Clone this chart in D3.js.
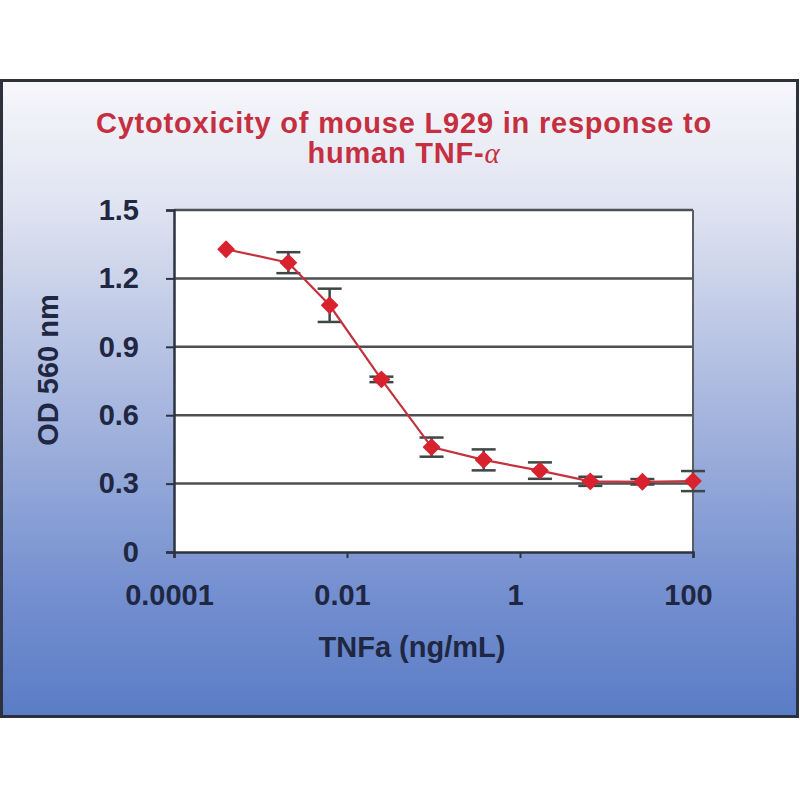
<!DOCTYPE html>
<html><head><meta charset="utf-8">
<script src="https://cdn.jsdelivr.net/npm/d3@7"></script>
<style>body{margin:0;background:#fff;}svg{display:block;}</style>
</head><body>
<svg id="c" width="800" height="800"></svg>
<script>
const concentrations = [0.0004, 0.0021, 0.0063, 0.025, 0.095, 0.38, 1.7, 6.5, 26, 100];
const odValues = [1.328, 1.269, 1.082, 0.757, 0.460, 0.404, 0.357, 0.310, 0.308, 0.311];
const odErrors = [0, 0.046, 0.073, 0.012, 0.042, 0.046, 0.036, 0.020, 0.012, 0.044];
const yTicks = [0, 0.3, 0.6, 0.9, 1.2, 1.5];
const xTicks = [0.0001, 0.01, 1, 100];
const xTickLabels = ["0.0001", "0.01", "1", "100"];
const titleLine1 = "Cytotoxicity of mouse L929 in response to";
const titleLine2 = "human TNF-";
const yTitle = "OD 560 nm";
const xTitle = "TNFa (ng/mL)";

const svg = d3.select("#c");
const font = "'Liberation Sans', Arial, sans-serif";
const defs = svg.append("defs");
const g = defs.append("linearGradient").attr("id","bg").attr("x1",0).attr("y1",0).attr("x2",0).attr("y2",1);
g.append("stop").attr("offset","0%").attr("stop-color","#f7f7fb");
g.append("stop").attr("offset","20%").attr("stop-color","#dfe3f1");
g.append("stop").attr("offset","50%").attr("stop-color","#a9b8df");
g.append("stop").attr("offset","80%").attr("stop-color","#7590d0");
g.append("stop").attr("offset","100%").attr("stop-color","#5a7cc6");

svg.append("rect").attr("x",1.5).attr("y",80.5).attr("width",796).attr("height",636)
  .attr("fill","url(#bg)").attr("stroke","#2c313c").attr("stroke-width",3);

const m = {l:174, r:693, t:210, b:552};
const x = d3.scaleLog().domain([0.0001,100]).range([m.l,m.r]);
const y = d3.scaleLinear().domain([0,1.5]).range([m.b,m.t]);

svg.append("rect").attr("x",m.l).attr("y",m.t).attr("width",m.r-m.l).attr("height",m.b-m.t)
  .attr("fill","#ffffff");

// gridlines
svg.append("g").selectAll("line").data(yTicks.filter(d=>d>0)).join("line")
  .attr("x1",m.l).attr("x2",m.r).attr("y1",d=>y(d)).attr("y2",d=>y(d))
  .attr("stroke","#4d4f52").attr("stroke-width",2.5);
// right border
svg.append("line").attr("x1",m.r).attr("x2",m.r).attr("y1",m.t).attr("y2",m.b)
  .attr("stroke","#5a5d66").attr("stroke-width",2);

// y axis
const yAxis = d3.axisLeft(y).tickValues(yTicks).tickFormat(d=>d===0?"0":d3.format(".1f")(d)).tickSize(8).tickPadding(27);
const ya = svg.append("g").attr("transform",`translate(${m.l},0)`).call(yAxis);
ya.select(".domain").attr("stroke","#2e3340").attr("stroke-width",2.5);
ya.selectAll(".tick line").attr("stroke","#2e3340").attr("stroke-width",2);
ya.selectAll(".tick text").attr("font-family",font).attr("font-weight","bold").attr("font-size",29).attr("fill","#1f2742");

// x axis
const xAxis = d3.axisBottom(x).tickValues(xTicks).tickFormat((d,i)=>xTickLabels[i]).tickSize(6).tickPadding(26);
const xa = svg.append("g").attr("transform",`translate(0,${m.b})`).call(xAxis);
xa.select(".domain").attr("stroke","#2e3340").attr("stroke-width",2.5);
xa.selectAll(".tick line").attr("stroke","#2e3340").attr("stroke-width",2);
xa.selectAll(".tick text").attr("font-family",font).attr("font-weight","bold").attr("font-size",29).attr("fill","#1f2742").attr("dx",-5);

// error bars
const data = concentrations.map((c,i)=>({c, v:odValues[i], e:odErrors[i]}));
const eb = svg.append("g").attr("stroke","#3c4746").attr("stroke-width",2.5);
data.filter(d=>d.e>0).forEach(d=>{
  const cx = x(d.c);
  eb.append("line").attr("x1",cx).attr("x2",cx).attr("y1",y(d.v+d.e)).attr("y2",y(d.v-d.e));
  eb.append("line").attr("x1",cx-12).attr("x2",cx+12).attr("y1",y(d.v+d.e)).attr("y2",y(d.v+d.e));
  eb.append("line").attr("x1",cx-12).attr("x2",cx+12).attr("y1",y(d.v-d.e)).attr("y2",y(d.v-d.e));
});

// line
svg.append("path").datum(data)
  .attr("d", d3.line().x(d=>x(d.c)).y(d=>y(d.v)))
  .attr("fill","none").attr("stroke","#c4323e").attr("stroke-width",2.2);

// markers
svg.append("g").selectAll("path").data(data).join("path")
  .attr("transform",d=>`translate(${x(d.c)},${y(d.v)}) rotate(45)`)
  .attr("d", d3.symbol().type(d3.symbolSquare).size(125))
  .attr("fill","#d8232f").attr("stroke","#d8232f").attr("stroke-width",1.5).attr("stroke-linejoin","round");

// titles
svg.append("text").attr("x",404).attr("y",133).attr("text-anchor","middle")
  .attr("font-family",font).attr("font-weight","bold").attr("font-size",29).attr("letter-spacing",0.8).attr("fill","#c52f40")
  .text(titleLine1);
const t2 = svg.append("text").attr("x",404).attr("y",163).attr("text-anchor","middle")
  .attr("font-family",font).attr("font-weight","bold").attr("font-size",29).attr("letter-spacing",0.8).attr("fill","#c52f40");
t2.append("tspan").text(titleLine2);
t2.append("tspan").attr("font-weight","normal").attr("font-family","'Liberation Serif', serif").attr("font-style","italic").text("α");

svg.append("text").attr("transform","translate(58,370) rotate(-90)").attr("text-anchor","middle")
  .attr("font-family",font).attr("font-weight","bold").attr("font-size",29).attr("fill","#1f2742")
  .text(yTitle);
svg.append("text").attr("x",412).attr("y",657).attr("text-anchor","middle")
  .attr("font-family",font).attr("font-weight","bold").attr("font-size",29).attr("fill","#1f2742")
  .text(xTitle);
</script>
</body></html>
